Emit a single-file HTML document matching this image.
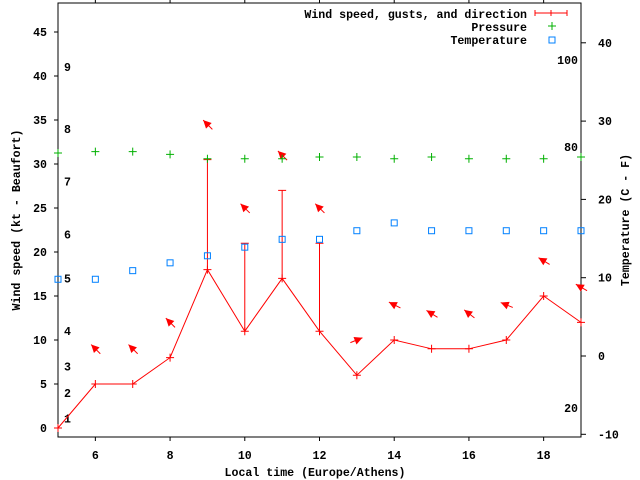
<!DOCTYPE html>
<html><head><meta charset="utf-8"><style>
html,body{margin:0;padding:0;background:#fff;}
svg{display:block;}
text{font-family:"Liberation Mono",monospace;font-weight:bold;font-size:11.6px;fill:#000;}
</style></head><body>
<svg id="chart" width="640" height="480" xmlns="http://www.w3.org/2000/svg">
<g id="axes"></g>
<g id="marks"></g>
</svg>
<script>
const hours=[5,6,7,8,9,10,11,12,13,14,15,16,17,18,19];
const windSpeed=[0,5,5,8,18,11,17,11,6,10,9,9,10,15,12];
const gustHours=[9,10,11,12];
const gustValues=[30.5,21,27,21];
const windDir=[null,315,315,315,315,315,315,315,68,297,302,308,292,301,300];
const pressure=[31.25,31.4,31.4,31.1,30.6,30.6,30.6,30.8,30.8,30.6,30.8,30.6,30.6,30.6,30.8];
const temperature=[9.8,9.8,10.9,11.9,12.8,13.9,14.9,14.9,16,17,16,16,16,16,16];
const xTicks=[6,8,10,12,14,16,18];
const yTicks=[0,5,10,15,20,25,30,35,40,45];
const tTicks=[-10,0,10,20,30,40];
const beaufortLabels=["1","2","3","4","5","6","7","8","9"];
const beaufortKt=[1.1,4,7,11,17,22,28,34,41];
const fahrLabels=["100","80","20"];
const fahrValues=[100,80,20];

const L=58,R=581,T=3,B=437;
const X=h=>L+(h-5)*(R-L)/14;
const Y=k=>428-k*8.8;
const TY=c=>356-c*7.83;
const NS="http://www.w3.org/2000/svg";
function mk(tag,attrs,parent,txt){const e=document.createElementNS(NS,tag);for(const k in attrs)e.setAttribute(k,attrs[k]);if(txt!==undefined)e.textContent=txt;parent.appendChild(e);return e;}
const ax=document.getElementById('axes'),mg=document.getElementById('marks');

let e=mk('rect',{x:L,y:T,width:R-L,height:B-T,fill:'none',stroke:'#000','stroke-width':1},ax);


xTicks.forEach(h=>{
  mk('line',{x1:X(h),x2:X(h),y1:B,y2:B+4,stroke:'#000'},ax);
  mk('line',{x1:X(h),x2:X(h),y1:T,y2:T-4,stroke:'#000'},ax);
  const t=mk('text',{x:X(h),y:B+22,'text-anchor':'middle'},ax,String(h));
  
  
});
yTicks.forEach(k=>{
  mk('line',{x1:L-4,x2:L,y1:Y(k),y2:Y(k),stroke:'#000'},ax);
  const t=mk('text',{x:47,y:Y(k)+4,'text-anchor':'end'},ax,String(k));
  
  
});
tTicks.forEach(c=>{
  mk('line',{x1:R,x2:R+5,y1:TY(c),y2:TY(c),stroke:'#000'},ax);
  const t=mk('text',{x:598,y:TY(c)+4},ax,String(c));
  
  
});
beaufortLabels.forEach((b,i)=>{
  const t=mk('text',{x:64,y:Y(beaufortKt[i])+4},ax,b);
  
  
});
fahrLabels.forEach((f,i)=>{
  const t=mk('text',{x:578,y:TY((fahrValues[i]-32)*5/9)+4,'text-anchor':'end'},ax,f);
  
  
});
e=mk('text',{x:315,y:476,'text-anchor':'middle'},ax,'Local time (Europe/Athens)');


e=mk('text',{x:0,y:0,'text-anchor':'middle',transform:'translate(20,220) rotate(-90)'},ax,'Wind speed (kt - Beaufort)');


e=mk('text',{x:0,y:0,'text-anchor':'middle',transform:'translate(629,220) rotate(-90)'},ax,'Temperature (C - F)');



// wind line
e=mk('polyline',{points:hours.map((h,i)=>X(h)+','+Y(windSpeed[i])).join(' '),fill:'none',stroke:'#f00','stroke-width':1},mg);


hours.forEach((h,i)=>{
  const p=mk('path',{d:`M${X(h)-4},${Y(windSpeed[i])}h8M${X(h)},${Y(windSpeed[i])-4}v8`,stroke:'#f00'},mg);
  
  
});
gustHours.forEach((h,i)=>{
  const ws=windSpeed[hours.indexOf(h)];
  const p=mk('path',{d:`M${X(h)},${Y(ws)}V${Y(gustValues[i])}M${X(h)-4},${Y(gustValues[i])}h8`,stroke:'#f00'},mg);
  
  
});
hours.forEach((h,i)=>{
  if(windDir[i]===null)return;
  const gi=gustHours.indexOf(h);
  const top=Math.max(windSpeed[i],gi>=0?gustValues[gi]:0)+4;
  const cx=X(h),cy=Y(top),a=windDir[i]*Math.PI/180;
  const dx=Math.sin(a),dy=-Math.cos(a);
  const hx=cx+dx*6,hy=cy+dy*6,tx=cx-dx*7,ty=cy-dy*7;
  const bx=hx-dx*8,by=hy-dy*8,px=-dy,py=dx;
  const g=mk('g',{},mg);
  
  
  mk('line',{x1:tx,y1:ty,x2:hx,y2:hy,stroke:'#f00','stroke-width':1},g);
  mk('polygon',{points:`${hx},${hy} ${bx+px*4},${by+py*4} ${bx-px*4},${by-py*4}`,fill:'#f00'},g);
});
hours.forEach((h,i)=>{
  const p=mk('path',{d:`M${X(h)-4},${Y(pressure[i])}h8M${X(h)},${Y(pressure[i])-4}v8`,stroke:'#00b000'},mg);
  
  
});
hours.forEach((h,i)=>{
  const p=mk('rect',{x:X(h)-3,y:TY(temperature[i])-3,width:6,height:6,fill:'none',stroke:'#0080ff'},mg);
  
  
});
// legend
const lg=mk('g',{},mg);


mk('text',{x:527,y:18,'text-anchor':'end'},lg,'Wind speed, gusts, and direction');
mk('path',{d:'M535,13h32M535,10v6M567,10v6M551,10v6',stroke:'#f00'},lg);
mk('text',{x:527,y:31,'text-anchor':'end'},lg,'Pressure');
mk('path',{d:'M548,26h8M552,22v8',stroke:'#00b000'},lg);
mk('text',{x:527,y:44,'text-anchor':'end'},lg,'Temperature');
mk('rect',{x:549,y:37,width:6,height:6,fill:'none',stroke:'#0080ff'},lg);
</script>
</body></html>
